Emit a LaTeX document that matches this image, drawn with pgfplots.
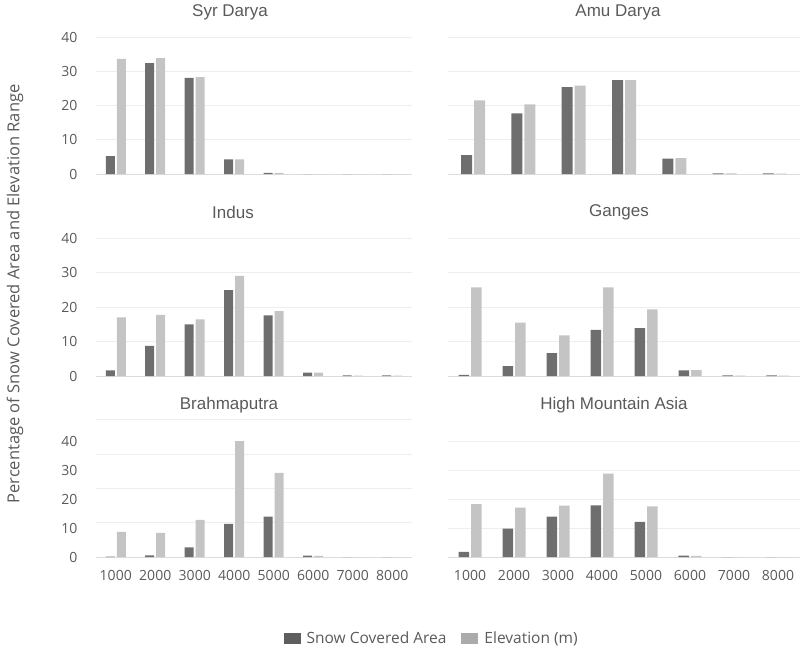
\documentclass[border=0pt]{standalone}
\usepackage{pgfplots}
\pgfplotsset{compat=1.18}
\usepackage{fontspec}
\setmainfont{Open Sans}
\newfontfamily\titlefont{Liberation Sans}
\definecolor{darkbar}{HTML}{6E6E6E}
\definecolor{lightbar}{HTML}{C4C4C4}
\definecolor{legdark}{HTML}{5E5E5E}
\definecolor{leglight}{HTML}{ABABAB}
\definecolor{txt}{HTML}{5A5A5A}
\definecolor{gridc}{HTML}{EEEEEE}
\definecolor{axc}{HTML}{DCDCDC}
\pgfplotsset{
  panel/.style={
    scale only axis, ybar=2pt, ymin=0,
    ytick={0,10,20,30,40},
    ymajorgrids, grid style={draw=gridc, line width=0.8pt},
    major tick length=0pt,
    axis x line*=bottom, axis y line*=left,
    x axis line style={-, draw=axc, line width=0.8pt},
    y axis line style={draw=none},
    /pgf/number format/assume math mode=true,
    tick label style={font=\fontsize{14}{16}\selectfont, text=txt},
    yticklabel style={xshift=-15pt},
    xticklabel style={yshift=-10pt},
    xtick={1,...,8}, xticklabels={},
    every axis plot/.append style={draw=none},
  },
  leftp/.style={panel, width=316pt, xmin=0.5, xmax=8.5, bar width=9pt},
  rightp/.style={panel, width=352pt, xmin=0.5, xmax=8.5, bar width=10.5pt, yticklabels={}},
}
\begin{document}
\begin{tikzpicture}
\useasboundingbox (0pt,0pt) rectangle (803pt,-648pt);
% Syr Darya
\begin{axis}[leftp, at={(96pt,-174pt)}, anchor=south west, height=137pt, ymax=40]
\addplot[fill=darkbar] coordinates {(1,5.2)(2,32.4)(3,28.1)(4,4.3)(5,0.3)(6,0)(7,0)(8,0)};
\addplot[fill=lightbar] coordinates {(1,33.6)(2,33.8)(3,28.3)(4,4.3)(5,0.3)(6,0)(7,0)(8,0)};
\end{axis}
% Amu Darya
\begin{axis}[rightp, at={(448pt,-174pt)}, anchor=south west, height=137pt, ymax=40, xmax=7.5, xtick={1,...,7}, bar width=11pt]
\addplot[fill=darkbar] coordinates {(1,5.5)(2,17.7)(3,25.4)(4,27.4)(5,4.5)(6,0.2)(7,0.15)};
\addplot[fill=lightbar] coordinates {(1,21.5)(2,20.3)(3,25.8)(4,27.4)(5,4.6)(6,0.15)(7,0.1)};
\end{axis}
% Indus
\begin{axis}[leftp, at={(96pt,-376pt)}, anchor=south west, height=138pt, ymax=40]
\addplot[fill=darkbar] coordinates {(1,1.65)(2,8.7)(3,15.0)(4,24.9)(5,17.6)(6,1.0)(7,0.2)(8,0.2)};
\addplot[fill=lightbar] coordinates {(1,17.0)(2,17.7)(3,16.4)(4,29.0)(5,18.8)(6,1.0)(7,0.1)(8,0.1)};
\end{axis}
% Ganges
\begin{axis}[rightp, at={(448pt,-376pt)}, anchor=south west, height=138pt, ymax=40]
\addplot[fill=darkbar] coordinates {(1,0.3)(2,2.9)(3,6.6)(4,13.4)(5,13.9)(6,1.6)(7,0.2)(8,0.2)};
\addplot[fill=lightbar] coordinates {(1,25.7)(2,15.5)(3,11.8)(4,25.7)(5,19.3)(6,1.7)(7,0.1)(8,0.1)};
\end{axis}
% Brahmaputra
\begin{axis}[leftp, at={(96pt,-557pt)}, anchor=south west, height=138pt, ymax=47.6,
  ytick={0,12.1,23.6,35.5,47.6}, yticklabels={},
  extra y ticks={0,10,20,30,40}, extra y tick style={grid=none},
  extra y tick labels={0,10,20,30,40},
  xticklabels={1000,2000,3000,4000,5000,6000,7000,8000}]
\addplot[fill=darkbar] coordinates {(1,0.1)(2,0.6)(3,3.3)(4,11.4)(5,13.9)(6,0.5)(7,0)(8,0)};
\addplot[fill=lightbar] coordinates {(1,8.7)(2,8.3)(3,12.8)(4,40.0)(5,29.0)(6,0.35)(7,0)(8,0)};
\end{axis}
% High Mountain Asia
\begin{axis}[rightp, at={(448pt,-557pt)}, anchor=south west, height=138pt, ymax=47.6,
  xticklabels={1000,2000,3000,4000,5000,6000,7000,8000},
  legend style={at={(-0.045,-0.587)}, anchor=center, draw=none, fill=none,
    legend columns=2, font=\fontsize{15.5}{18}\selectfont, text=txt,
    nodes={inner sep=3pt},
    /tikz/every even column/.append style={column sep=12pt},
    legend cell align=left},
  legend image code/.code={\fill[#1] (0pt,-5.5pt) rectangle (17pt,5.5pt);\path (20pt,0pt);}]
\addplot[fill=darkbar] coordinates {(1,1.8)(2,9.8)(3,13.9)(4,17.8)(5,12.1)(6,0.45)(7,0)(8,0)};
\addplot[fill=lightbar] coordinates {(1,18.2)(2,17.0)(3,17.7)(4,28.8)(5,17.5)(6,0.35)(7,0)(8,0)};
\addlegendimage{fill=legdark, draw=none}
\addlegendimage{fill=leglight, draw=none}
\legend{,,Snow Covered Area,Elevation (m)}
\end{axis}
% titles
\begin{scope}[every node/.style={font=\titlefont\fontsize{17}{19}\selectfont, text=txt, inner sep=0pt}]
\node at (230pt,-12pt) {Syr Darya};
\node at (618pt,-12pt) {Amu Darya};
\node at (233pt,-212pt) {Indus};
\node at (619pt,-212pt) {Ganges};
\node at (229pt,-405pt) {Brahmaputra};
\node at (614pt,-405pt) {High Mountain Asia};
\end{scope}
\node[rotate=90, font=\fontsize{16.5}{18}\selectfont, text=txt, inner sep=0pt] at (15pt,-294pt) {Percentage of Snow Covered Area and Elevation Range};
\end{tikzpicture}
\end{document}
